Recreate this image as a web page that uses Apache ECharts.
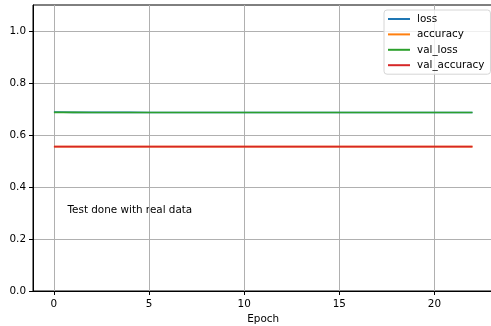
<!DOCTYPE html>
<html>
<head>
<meta charset="utf-8">
<script src="https://cdn.jsdelivr.net/npm/echarts@6/dist/echarts.min.js"></script>
<style>
html,body{margin:0;padding:0;background:#fff;}
#c{width:491px;height:326px;}
</style>
</head>
<body>
<div id="c"></div>
<script>
// Data
const epochs = [0,1,2,3,4,5,6,7,8,9,10,11,12,13,14,15,16,17,18,19,20,21,22];
const loss = [0.6885,0.6872,0.6870,0.6869,0.6869,0.6868,0.6868,0.6868,0.6868,0.6868,0.6868,0.6868,0.6868,0.6868,0.6868,0.6868,0.6868,0.6868,0.6868,0.6868,0.6868,0.6868,0.6868];
const accuracy = [0.5553,0.5553,0.5553,0.5553,0.5553,0.5553,0.5553,0.5553,0.5553,0.5553,0.5553,0.5553,0.5553,0.5553,0.5553,0.5553,0.5553,0.5553,0.5553,0.5553,0.5553,0.5553,0.5553];
const val_loss = [0.6870,0.6869,0.6868,0.6868,0.6868,0.6868,0.6868,0.6868,0.6868,0.6868,0.6868,0.6868,0.6868,0.6868,0.6868,0.6868,0.6868,0.6868,0.6868,0.6868,0.6868,0.6868,0.6868];
const val_accuracy = [0.5553,0.5553,0.5553,0.5553,0.5553,0.5553,0.5553,0.5553,0.5553,0.5553,0.5553,0.5553,0.5553,0.5553,0.5553,0.5553,0.5553,0.5553,0.5553,0.5553,0.5553,0.5553,0.5553];
const xTicks = [0,5,10,15,20];
const yTicks = [0,0.2,0.4,0.6,0.8,1.0];
const seriesNames = ['loss','accuracy','val_loss','val_accuracy'];
const seriesColors = ['#1f77b4','#ff7f0e','#2ca02c','#d62728'];
const annotation = 'Test done with real data';
const xLabel = 'Epoch';

const seriesData = [loss, accuracy, val_loss, val_accuracy];
const font = 'DejaVu Sans';

const chart = echarts.init(document.getElementById('c'), null, {renderer:'canvas'});
chart.setOption({
  animation:false,
  backgroundColor:'#fff',
  grid:{left:33, top:5, width:460.4, height:286, show:true, borderColor:'#000', borderWidth:1,
        backgroundColor:'transparent', containLabel:false, outerBoundsMode:'none'},
  legend:{
    left:384, top:10,
    orient:'vertical',
    padding:[3,6,3,4],
    itemGap:3.4,
    itemWidth:22, itemHeight:2,
    backgroundColor:'rgba(255,255,255,0.8)',
    borderColor:'#d6d6d6', borderWidth:1, borderRadius:3,
    textStyle:{fontFamily:font, fontSize:10.4, color:'#000', lineHeight:12, padding:[0,0,0,2]},
    data: seriesNames.map((n,i)=>({name:n, icon:'rect'}))
  },
  xAxis:{
    type:'value', min:-1.1, max:23.1,
    name:xLabel, nameLocation:'middle', nameGap:22,
    nameTextStyle:{fontFamily:font, fontSize:10.4, color:'#000'},
    axisLine:{show:true, onZero:false, lineStyle:{color:'#000', width:1}},
    axisTick:{show:true, length:4, customValues:xTicks, lineStyle:{color:'#000'}},
    axisLabel:{customValues:xTicks, fontFamily:font, fontSize:10.4, color:'#000', margin:8},
    splitLine:{show:true, lineStyle:{color:'#b0b0b0', width:1}}
  },
  yAxis:{
    type:'value', min:0, max:1.1,
    axisLine:{show:true, onZero:false, lineStyle:{color:'#000', width:1}},
    axisTick:{show:true, length:4, customValues:yTicks, lineStyle:{color:'#000'}},
    axisLabel:{customValues:yTicks, fontFamily:font, fontSize:10.4, color:'#000', margin:7,
      formatter:v=>v.toFixed(1)},
    splitLine:{show:true, lineStyle:{color:'#b0b0b0', width:1}}
  },
  graphic:[{
    type:'text', left:67.5, top:205,
    style:{text:annotation, font:'10.4px "DejaVu Sans"', fill:'#000'}
  }],
  series: seriesNames.map((n,i)=>({
    name:n, type:'line', showSymbol:false, symbol:'none',
    color:seriesColors[i],
    lineStyle:{width:1.6, color:seriesColors[i]},
    data: epochs.map((e,k)=>[e, seriesData[i][k]]),
    z:2+i
  }))
});
</script>
</body>
</html>
